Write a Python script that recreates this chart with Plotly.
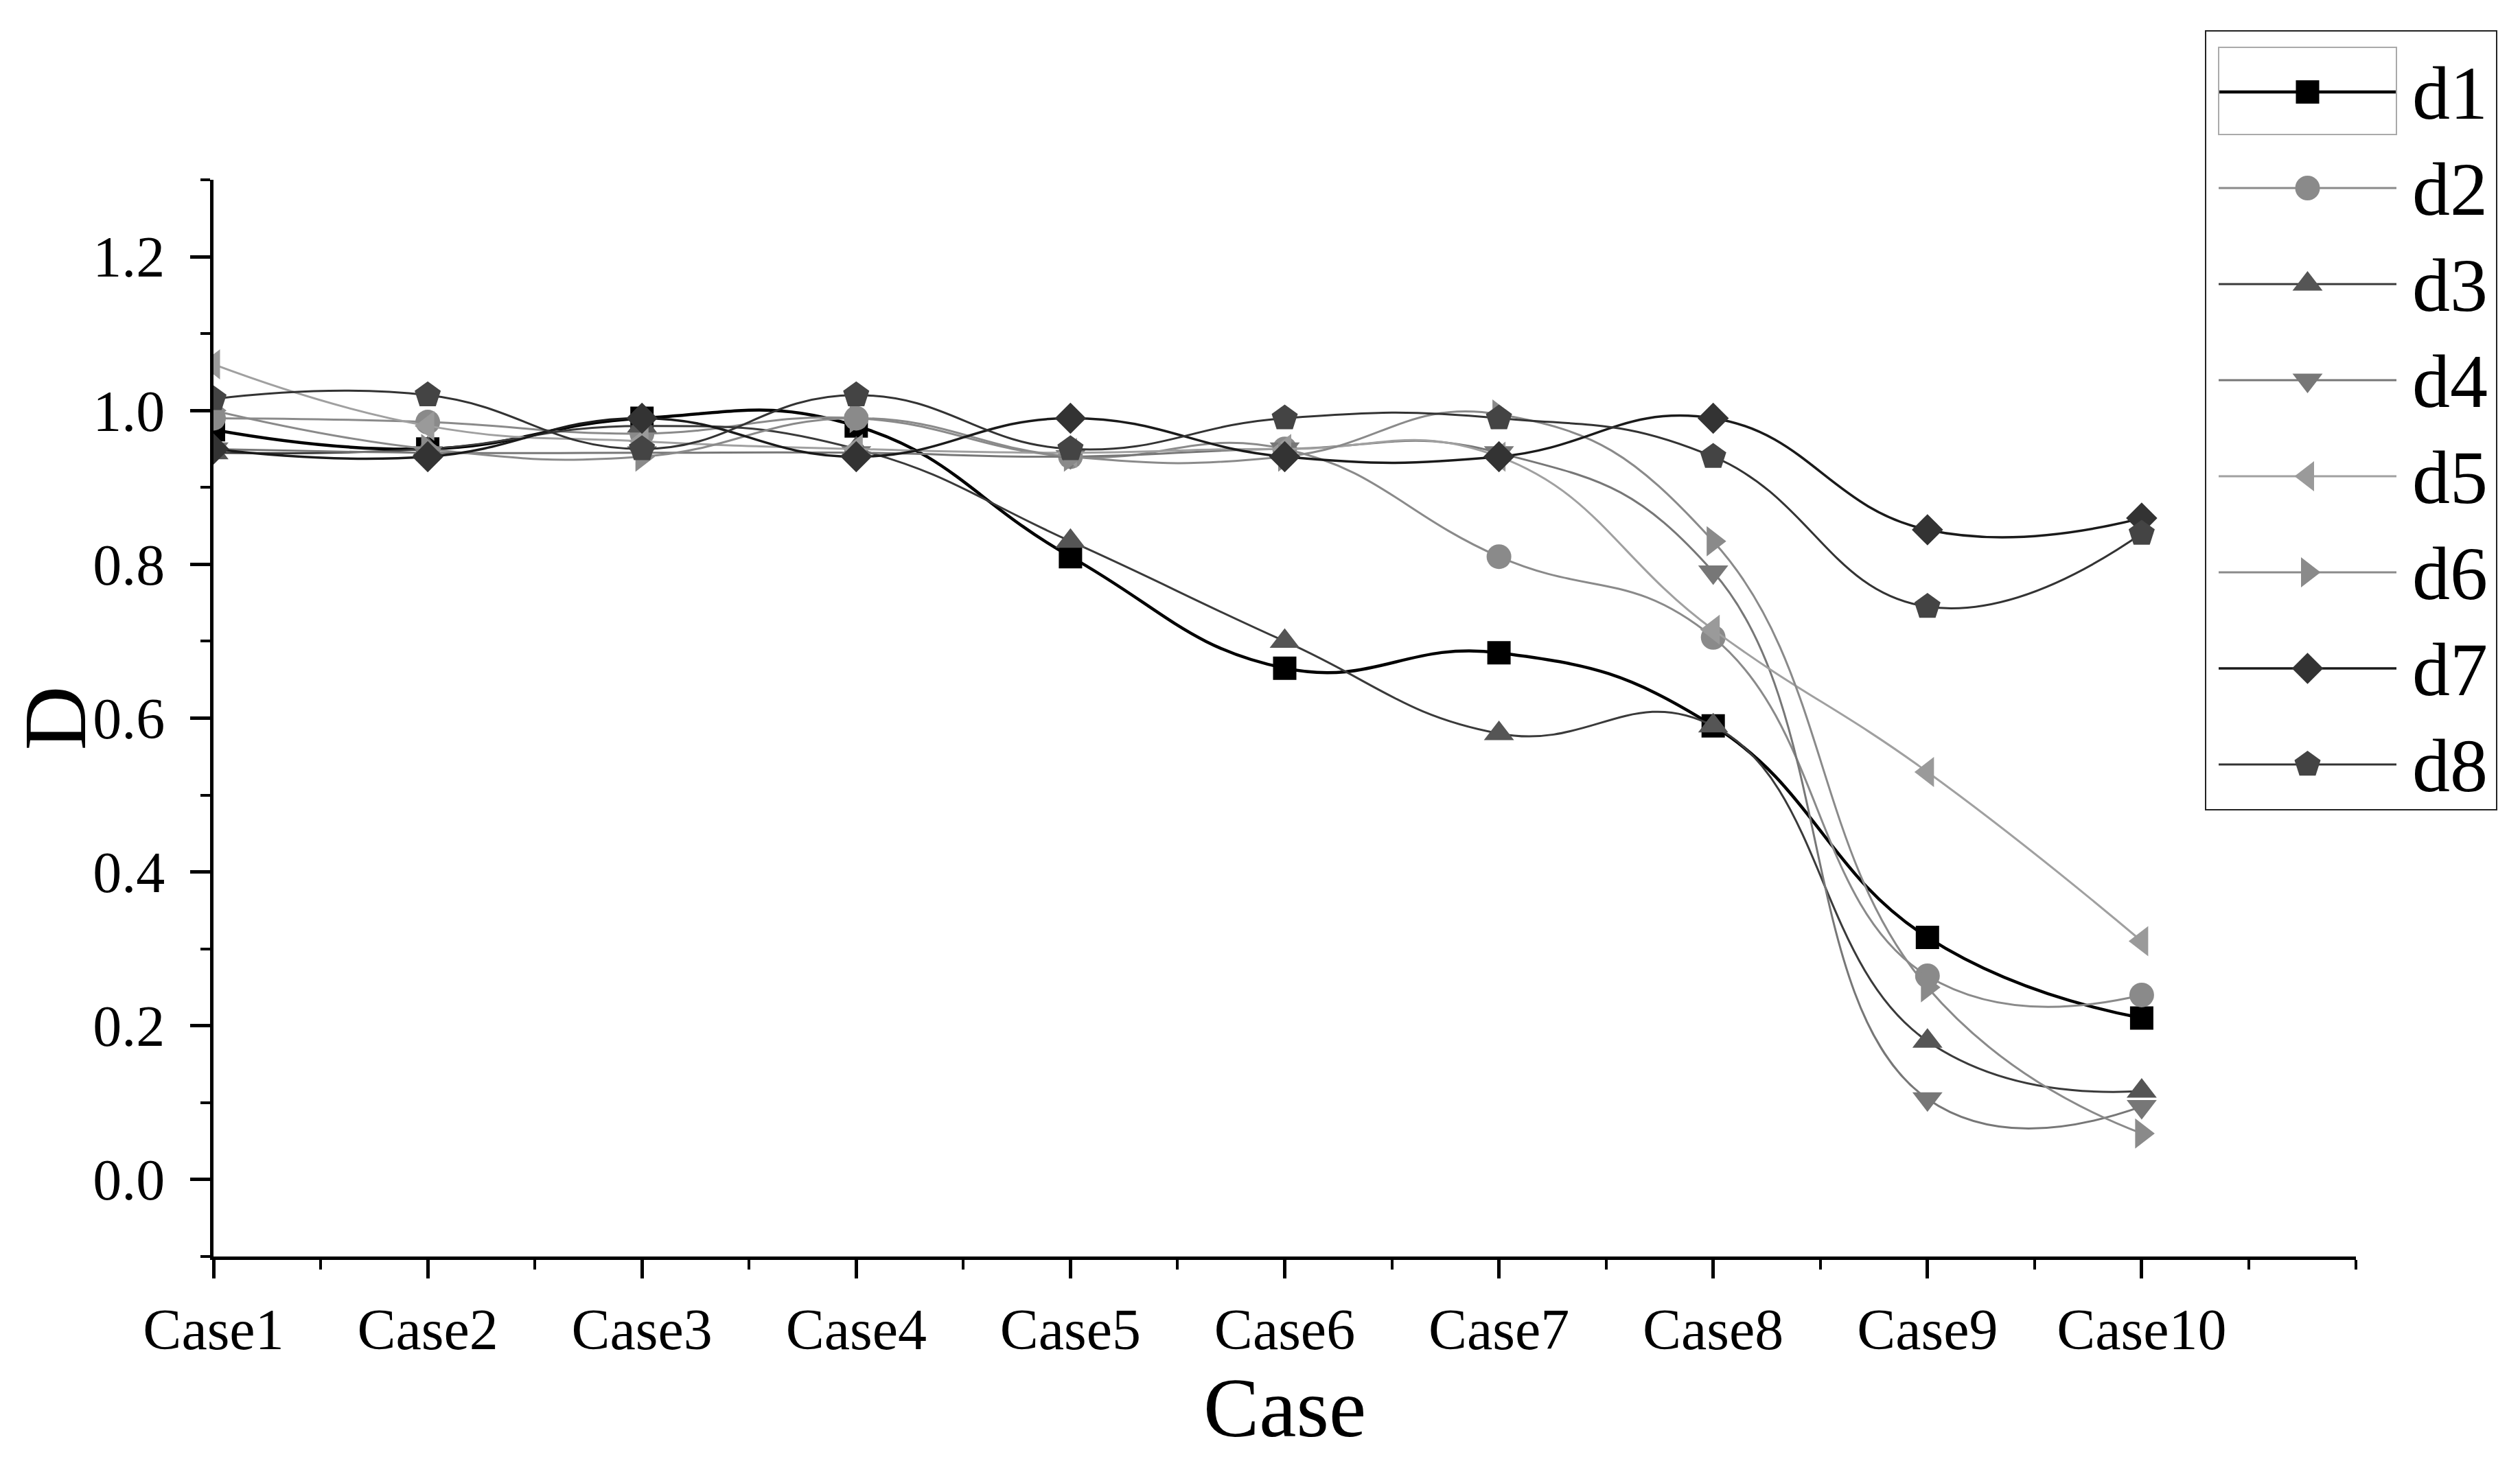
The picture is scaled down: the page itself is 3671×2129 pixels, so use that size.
import plotly.graph_objects as go

cases = ["Case1", "Case2", "Case3", "Case4", "Case5", "Case6", "Case7", "Case8", "Case9", "Case10"]

d1 = [0.975, 0.95, 0.99, 0.98, 0.81, 0.665, 0.685, 0.59, 0.315, 0.21]
d2 = [0.99, 0.985, 0.97, 0.99, 0.94, 0.95, 0.81, 0.705, 0.265, 0.24]
d3 = [0.945, 0.95, 0.98, 0.95, 0.83, 0.70, 0.58, 0.59, 0.18, 0.115]
d4 = [0.95, 0.945, 0.945, 0.945, 0.94, 0.95, 0.945, 0.79, 0.105, 0.095]
d5 = [1.06, 0.98, 0.96, 0.95, 0.945, 0.95, 0.94, 0.715, 0.53, 0.31]
d6 = [1.00, 0.95, 0.94, 0.99, 0.94, 0.94, 0.995, 0.83, 0.25, 0.06]
d7 = [0.95, 0.94, 0.99, 0.94, 0.99, 0.94, 0.94, 0.99, 0.845, 0.86]
d8 = [1.015, 1.02, 0.95, 1.02, 0.95, 0.99, 0.99, 0.94, 0.745, 0.84]

series_names = ["d1", "d2", "d3", "d4", "d5", "d6", "d7", "d8"]
series_values = [d1, d2, d3, d4, d5, d6, d7, d8]

y_tick_vals = [0.0, 0.2, 0.4, 0.6, 0.8, 1.0, 1.2]
y_tick_text = ["0.0", "0.2", "0.4", "0.6", "0.8", "1.0", "1.2"]

styles = [
    dict(line="#000000", marker="#000000", symbol="square", size=34, width=4.5),
    dict(line="#8a8a8a", marker="#8a8a8a", symbol="circle", size=36, width=3),
    dict(line="#3a3a3a", marker="#555555", symbol="triangle-up", size=38, width=3),
    dict(line="#777777", marker="#777777", symbol="triangle-down", size=38, width=3),
    dict(line="#a0a0a0", marker="#9a9a9a", symbol="triangle-left", size=38, width=3),
    dict(line="#8a8a8a", marker="#8a8a8a", symbol="triangle-right", size=38, width=3),
    dict(line="#1a1a1a", marker="#333333", symbol="diamond", size=35, width=3.5),
    dict(line="#333333", marker="#444444", symbol="pentagon", size=40, width=3),
]

FONT = "Liberation Serif, Times New Roman, serif"

W, H = 3671, 2129
L, B = 303, 306          # left / bottom margins (px)
PLOT_RIGHT, PLOT_TOP = 3424, 254
PW, PH = W - L, H - B    # paper size in px (right and top margins are 0)


def px_x(px):
    return (px - L) / PW


def px_y(py):
    return (H - B - py) / PH


fig = go.Figure()
xs = list(range(len(cases)))
for name, vals, st in zip(series_names, series_values, styles):
    fig.add_trace(go.Scatter(
        x=xs, y=vals, name=name, mode="lines+markers", showlegend=False,
        line=dict(color=st["line"], width=st["width"], shape="spline", smoothing=1.3),
        marker=dict(color=st["marker"], symbol=st["symbol"], size=st["size"], line=dict(width=0)),
    ))

# Legend drawn on its own small axes (Origin style: long sample line + large marker)
for i, (name, st) in enumerate(zip(series_names, styles)):
    fig.add_trace(go.Scatter(
        x=[0, 1], y=[i, i], mode="lines", xaxis="x2", yaxis="y2", showlegend=False,
        hoverinfo="skip", line=dict(color=st["line"], width=st["width"]),
    ))
    fig.add_trace(go.Scatter(
        x=[0.5], y=[i], mode="markers", xaxis="x2", yaxis="y2", showlegend=False,
        hoverinfo="skip",
        marker=dict(color=st["marker"], symbol=st["symbol"], size=st["size"], line=dict(width=0)),
    ))

fig.update_layout(
    width=W, height=H,
    margin=dict(l=L, r=0, t=0, b=B, autoexpand=False),
    paper_bgcolor="white", plot_bgcolor="rgba(0,0,0,0)",
    font=dict(family=FONT, color="#000000", size=84),
    showlegend=False,
    xaxis=dict(
        domain=[0, px_x(PLOT_RIGHT)],
        range=[0, 10], tickmode="array", tickvals=xs, ticktext=cases,
        showline=True, linecolor="#000000", linewidth=5, mirror=False,
        ticks="outside", ticklen=27, tickwidth=5, tickcolor="#000000",
        minor=dict(dtick=0.5, tick0=0, ticks="outside", ticklen=14, tickwidth=4, tickcolor="#000000"),
        showgrid=False, zeroline=False, automargin=False,
        tickfont=dict(family=FONT, size=84),
        ticklabelstandoff=2,
        title=dict(text="Case", font=dict(family=FONT, size=122), standoff=10),
    ),
    yaxis=dict(
        domain=[0, px_y(PLOT_TOP)],
        range=[-0.1, 1.3], tickmode="array", tickvals=y_tick_vals, ticktext=y_tick_text,
        showline=True, linecolor="#000000", linewidth=5,
        ticks="outside", ticklen=29, tickwidth=5, tickcolor="#000000",
        minor=dict(dtick=0.1, tick0=-0.1, ticks="outside", ticklen=14, tickwidth=4, tickcolor="#000000"),
        showgrid=False, zeroline=False, automargin=False,
        tickfont=dict(family=FONT, size=84),
        ticklabelstandoff=20,
        title=dict(text="D", font=dict(family=FONT, size=130), standoff=10),
    ),
    xaxis2=dict(
        domain=[px_x(3224), px_x(3483)], range=[0, 1], anchor="y2",
        visible=False, fixedrange=True,
    ),
    yaxis2=dict(
        domain=[px_y(1176), px_y(56)], range=[7.5, -0.5], anchor="x2", side="right",
        tickmode="array", tickvals=list(range(len(series_names))), ticktext=series_names,
        showline=False, showgrid=False, zeroline=False, ticks="", automargin=False,
        tickfont=dict(family=FONT, size=110, color="#000000"),
        ticklabelstandoff=22, fixedrange=True,
    ),
    shapes=[
        dict(type="rect", xref="paper", yref="paper",
             x0=px_x(3205), x1=px_x(3629), y0=px_y(1172), y1=px_y(37),
             line=dict(color="#222222", width=2), fillcolor="rgba(0,0,0,0)", layer="above"),
        dict(type="rect", xref="paper", yref="paper",
             x0=px_x(3224), x1=px_x(3483), y0=px_y(188), y1=px_y(61),
             line=dict(color="#aaaaaa", width=2), fillcolor="rgba(0,0,0,0)", layer="above"),
    ],
)

fig.write_html("out.html")
